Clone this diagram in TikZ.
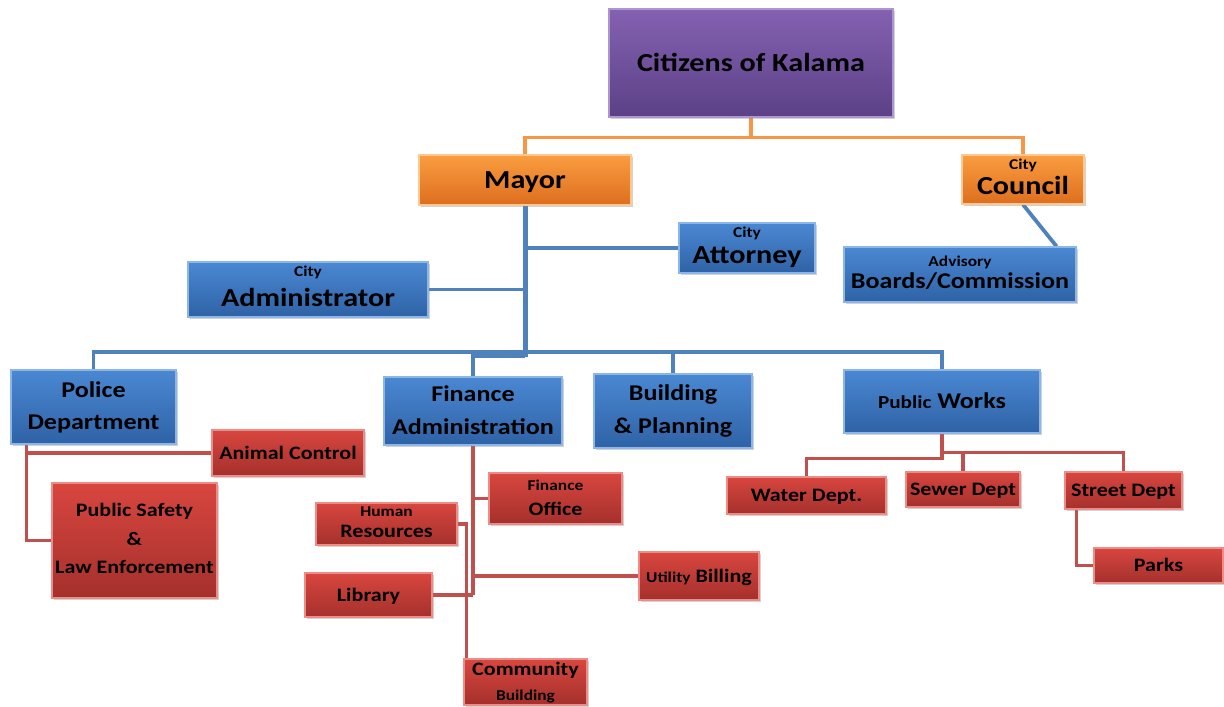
\documentclass[tikz,border=0pt]{standalone}
\usepackage{fontspec}
\setmainfont{Carlito}[FakeStretch=1.16]
\usetikzlibrary{shadows,backgrounds}
\definecolor{bluetop}{HTML}{4A88D2}
\definecolor{bluebot}{HTML}{2F62A6}
\definecolor{blueedge}{HTML}{8DB6E8}
\definecolor{blueline}{HTML}{4F81BD}
\definecolor{redtop}{HTML}{D8463F}
\definecolor{redbot}{HTML}{A5302C}
\definecolor{rededge}{HTML}{EC8C86}
\definecolor{redline}{HTML}{C0504D}
\definecolor{orgtop}{HTML}{FA9D40}
\definecolor{orgbot}{HTML}{DD6E1E}
\definecolor{orgedge}{HTML}{FDC891}
\definecolor{orgline}{HTML}{F79646}
\definecolor{purtop}{HTML}{8461B1}
\definecolor{purbot}{HTML}{5C4187}
\definecolor{puredge}{HTML}{AD96CF}
\tikzset{
  base/.style={rectangle, inner sep=0pt, line width=1.2pt, align=center,
    drop shadow={opacity=0.35, shadow xshift=2pt, shadow yshift=-2pt}},
  bluebox/.style={base, top color=bluetop, bottom color=bluebot, draw=blueedge},
  redbox/.style={base, top color=redtop, bottom color=redbot, draw=rededge},
  orgbox/.style={base, top color=orgtop, bottom color=orgbot, draw=orgedge},
  purbox/.style={base, top color=purtop, bottom color=purbot, draw=puredge},
  tL/.style={font=\bfseries\fontsize{26}{28}\selectfont, text height=16.7pt, text depth=0pt},
  tM/.style={font=\bfseries\fontsize{22.5}{24}\selectfont, text height=14.5pt, text depth=0pt},
  tR/.style={font=\bfseries\fontsize{19}{21}\selectfont, text height=12.2pt, text depth=0pt},
  tS/.style={font=\bfseries\fontsize{15}{17}\selectfont, text height=9.7pt, text depth=0pt},
  txt/.style={inner sep=0pt},
  bline/.style={draw=blueline, line width=3.8pt},
  rline/.style={draw=redline, line width=3.2pt},
  oline/.style={draw=orgline, line width=3.5pt},
}
\begin{document}
\begin{tikzpicture}[x=1pt, y=-1pt]
\useasboundingbox (0,0) rectangle (1224,707);

% ---------- boxes ----------
\node[purbox, tL, minimum width=284, minimum height=108] (cit) at (751,63) {Citizens of Kalama};
\node[orgbox, tL, minimum width=212, minimum height=50] (mayor) at (525,180) {Mayor};
\node[orgbox, minimum width=122, minimum height=49] (council) at (1023,179.5) {};
\node[bluebox, minimum width=136, minimum height=50] (atty) at (747,248) {};
\node[bluebox, minimum width=232, minimum height=55] (adv) at (960,274.5) {};
\node[bluebox, minimum width=240, minimum height=55] (admin) at (308,289.5) {};
\node[bluebox, minimum width=165, minimum height=74] (police) at (93.5,407) {};
\node[bluebox, minimum width=178, minimum height=68] (fin) at (473,411) {};
\node[bluebox, minimum width=158, minimum height=74] (bld) at (673,411) {};
\node[bluebox, tM, minimum width=196, minimum height=63] (pw) at (942,401.5)
  {{\fontsize{18.3}{20}\selectfont Public} Works};
\node[redbox, tR, minimum width=152, minimum height=46] (animal) at (288,453) {Animal Control};
\node[redbox, minimum width=165, minimum height=115] (safety) at (134.5,540.5) {};
\node[redbox, minimum width=141, minimum height=42] (hr) at (386.5,524) {};
\node[redbox, minimum width=133, minimum height=51] (fo) at (555.5,498.5) {};
\node[redbox, tR, minimum width=127, minimum height=44] (lib) at (368.5,595) {Library};
\node[redbox, tR, minimum width=120, minimum height=48] (ub) at (699,576)
  {{\fontsize{15}{17}\selectfont Utility} Billing};
\node[redbox, minimum width=123, minimum height=46] (comm) at (525.5,682) {};
\node[redbox, tR, minimum width=159, minimum height=37] (water) at (806.5,495.5) {Water Dept.};
\node[redbox, tR, minimum width=114, minimum height=35] (sewer) at (963,489.5) {Sewer Dept};
\node[redbox, tR, minimum width=117, minimum height=37] (street) at (1123.5,490.5) {Street Dept};
\node[redbox, tR, minimum width=129, minimum height=35] (parks) at (1158.5,565.5) {Parks};

% ---------- multi-line texts ----------
\node[txt, tS] (council-a) at (1023,165) {City};
\node[txt, tL] (council-b) at (1023,186.5) {Council};
\node[txt, tS] (atty-a) at (747,233) {City};
\node[txt, tL] (atty-b) at (747,255) {Attorney};
\node[txt, tS] (adv-a) at (960,262) {Advisory};
\node[txt, tM] (adv-b) at (960,281) {Boards/Commission};
\node[txt, tS] (admin-a) at (308,272) {City};
\node[txt, tL] (admin-b) at (308,298.5) {Administrator};
\node[txt, tM] (police-a) at (93.5,390) {Police};
\node[txt, tM] (police-b) at (93.5,422.5) {Department};
\node[txt, tM] (fin-a) at (473,394.5) {Finance};
\node[txt, tM] (fin-b) at (473,427.5) {Administration};
\node[txt, tM] (bld-a) at (673,393) {Building};
\node[txt, tM] (bld-b) at (673,426) {\& Planning};
\node[txt, tR] (safety-a) at (134.5,510.5) {Public Safety};
\node[txt, tR] (safety-b) at (134.5,539) {\&};
\node[txt, tR] (safety-c) at (134.5,567) {Law Enforcement};
\node[txt, tS] (hr-a) at (386.5,512) {Human};
\node[txt, tR] (hr-b) at (386.5,531) {Resources};
\node[txt, tS] (fo-a) at (555.5,485.5) {Finance};
\node[txt, tR] (fo-b) at (555.5,509.5) {Office};
\node[txt, tR] (comm-a) at (525.5,669.5) {Community};
\node[txt, tS] (comm-b) at (525.5,696) {Building};

% ---------- connectors (behind the boxes) ----------
\begin{scope}[on background layer]
% orange
\draw[oline] (cit.south) -- ++(0,20) -| (mayor.north);
\draw[oline] (cit.south) -- ++(0,20) -| (council.north);
% blue
\coordinate (trunk) at (525,357);
\coordinate (bus) at (525,352);
\draw[bline, line width=5pt] (mayor.south) -- (trunk);
\draw[bline] (mayor.south |- atty.west) -- (atty.west);
\draw[bline] (admin.east) -- (mayor.south |- admin.east);
\draw[bline] (police.north) |- (bus) -| (pw.north);
\draw[bline] (bld.north) -- (bld.north |- bus);
\draw[bline] (fin.north) |- ([yshift=1pt]trunk);
\draw[bline] (council.south) -- ([xshift=-20pt]adv.north east);
% red - police
\draw[rline] ([xshift=16pt]police.south west) |- (animal.west);
\draw[rline] ([xshift=16pt]police.south west) |- (safety.west);
% red - finance
\draw[rline] (fin.south) -- (fin.south |- lib.east);
\draw[rline] (fo.west) -- (fo.west -| fin.south);
\draw[rline] (hr.east) -| ([xshift=3pt]comm.west) -- (comm.west);
\draw[rline] (ub.west) -- (ub.west -| fin.south);
\draw[rline] (lib.east) -- (lib.east -| fin.south);
% red - public works
\draw[rline] (pw.south) -- ++(0,25) -| (water.north);
\draw[rline] (pw.south) -- ++(0,19) -| (street.north);
\draw[rline] (sewer.north) -- ++(0,-20);
\draw[rline] ([xshift=12pt]street.south west) |- (parks.west);
\end{scope}
\end{tikzpicture}
\end{document}
